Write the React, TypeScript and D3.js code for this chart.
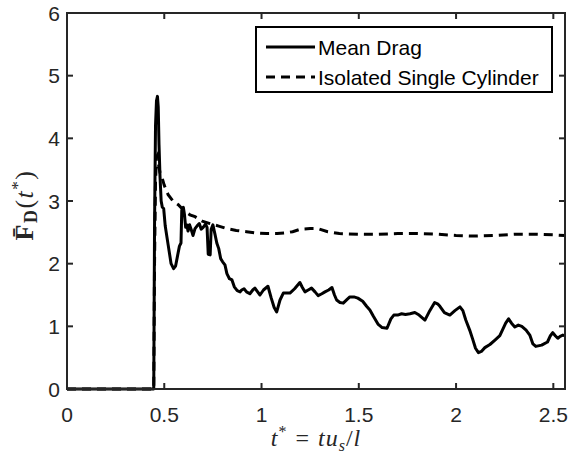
import React from "react";
import * as d3 from "d3";

const xTicks = [0, 0.5, 1, 1.5, 2, 2.5];
const yTicks = [0, 1, 2, 3, 4, 5, 6];
const seriesNames = ["Mean Drag", "Isolated Single Cylinder"];

const meanDrag: [number, number][] = [
  [0, 0], [0.446, 0], [0.45, 2.6], [0.455, 4.2], [0.46, 4.6], [0.465, 4.67], [0.469, 4.5], [0.473, 3.9],
  [0.478, 3.4], [0.484, 3.0], [0.49, 2.9], [0.497, 2.88], [0.505, 2.6], [0.52, 2.3], [0.535, 2.0],
  [0.548, 1.92], [0.558, 1.96], [0.568, 2.12], [0.578, 2.28], [0.586, 2.33], [0.59, 2.85], [0.598, 2.9],
  [0.604, 2.78], [0.61, 2.58], [0.616, 2.62], [0.622, 2.52], [0.63, 2.62], [0.638, 2.55], [0.648, 2.45],
  [0.658, 2.56], [0.668, 2.6], [0.68, 2.64], [0.69, 2.55], [0.7, 2.58], [0.712, 2.63], [0.72, 2.58],
  [0.726, 2.15], [0.736, 2.14], [0.741, 2.55], [0.75, 2.62], [0.76, 2.48], [0.77, 2.33], [0.78, 2.24],
  [0.79, 2.08], [0.8, 2.03], [0.812, 1.98], [0.822, 1.84], [0.835, 1.76], [0.848, 1.74], [0.86, 1.63],
  [0.875, 1.57], [0.89, 1.55], [0.898, 1.58], [0.91, 1.6], [0.923, 1.55], [0.94, 1.52], [0.955, 1.58],
  [0.966, 1.61], [0.98, 1.55], [0.992, 1.5], [1.01, 1.58], [1.033, 1.64], [1.05, 1.45], [1.065, 1.3],
  [1.078, 1.23], [1.095, 1.42], [1.112, 1.53], [1.13, 1.53], [1.146, 1.53], [1.17, 1.6], [1.197, 1.7],
  [1.21, 1.62], [1.223, 1.55], [1.24, 1.58], [1.257, 1.61], [1.275, 1.55], [1.291, 1.49], [1.31, 1.52],
  [1.326, 1.55], [1.345, 1.58], [1.362, 1.62], [1.375, 1.5], [1.386, 1.42], [1.403, 1.38], [1.42, 1.37],
  [1.44, 1.43], [1.454, 1.47], [1.475, 1.47], [1.495, 1.45], [1.52, 1.4], [1.54, 1.32], [1.557, 1.26],
  [1.575, 1.16], [1.6, 1.03], [1.62, 0.98], [1.645, 0.97], [1.665, 1.12], [1.68, 1.18], [1.7, 1.18],
  [1.72, 1.2], [1.74, 1.19], [1.763, 1.2], [1.788, 1.22], [1.81, 1.18], [1.84, 1.1], [1.865, 1.25],
  [1.89, 1.38], [1.905, 1.36], [1.917, 1.32], [1.94, 1.22], [1.968, 1.18], [1.994, 1.25], [2.02, 1.31],
  [2.035, 1.25], [2.05, 1.1], [2.07, 0.94], [2.085, 0.8], [2.1, 0.65], [2.115, 0.58], [2.13, 0.6],
  [2.148, 0.66], [2.174, 0.71], [2.2, 0.78], [2.225, 0.85], [2.24, 0.95], [2.255, 1.05], [2.27, 1.12],
  [2.285, 1.05], [2.302, 0.99], [2.32, 1.02], [2.338, 1.0], [2.36, 0.94], [2.379, 0.86], [2.395, 0.72],
  [2.41, 0.68], [2.44, 0.7], [2.47, 0.75], [2.485, 0.85], [2.497, 0.9], [2.51, 0.85], [2.523, 0.81],
  [2.535, 0.84], [2.549, 0.86], [2.56, 0.85],
];

const isolated: [number, number][] = [
  [0, 0], [0.446, 0], [0.45, 2.0], [0.455, 3.3], [0.46, 3.7], [0.465, 3.73], [0.47, 3.6], [0.478, 3.45],
  [0.488, 3.38], [0.5, 3.25], [0.52, 3.1], [0.545, 3.0], [0.572, 2.94], [0.6, 2.85], [0.632, 2.78],
  [0.658, 2.75], [0.695, 2.68], [0.735, 2.64], [0.78, 2.6], [0.82, 2.56], [0.87, 2.53], [0.923, 2.51],
  [0.975, 2.49], [1.026, 2.48], [1.08, 2.48], [1.12, 2.49], [1.16, 2.51], [1.2, 2.55], [1.25, 2.56],
  [1.29, 2.56], [1.34, 2.51], [1.4, 2.48], [1.5, 2.47], [1.6, 2.47], [1.7, 2.48], [1.8, 2.48],
  [1.9, 2.47], [2.0, 2.45], [2.1, 2.44], [2.2, 2.45], [2.3, 2.47], [2.4, 2.47], [2.5, 2.46], [2.56, 2.45],
];

const W = 570;
const H = 459;
const L = 67, R = 565, T = 13, B = 389;

export default function App() {
  const x = d3.scaleLinear().domain([0, 2.56]).range([L, R]);
  const y = d3.scaleLinear().domain([0, 6]).range([B, T]);
  const line = d3.line<[number, number]>().x((d) => x(d[0])).y((d) => y(d[1]));
  const axisColor = "#262626";
  const tickLen = 6;
  const sans = "'Liberation Sans', Arial, sans-serif";
  const serif = "'Liberation Serif', 'DejaVu Serif', serif";

  return (
    <svg width={W} height={H} style={{ position: "absolute", left: 0, top: 0, background: "#fff" }}>
      <defs>
        <clipPath id="plotclip">
          <rect x={L} y={T - 2} width={R - L} height={B - T + 4} />
        </clipPath>
      </defs>
      <rect x={0} y={0} width={W} height={H} fill="#fff" />
      <g clipPath="url(#plotclip)">
        <path d={line(meanDrag) || ""} fill="none" stroke="#000" strokeWidth={3} strokeLinejoin="round" />
        <path d={line(isolated) || ""} fill="none" stroke="#000" strokeWidth={3} strokeDasharray="9,6" />
      </g>
      <rect x={L} y={T} width={R - L} height={B - T} fill="none" stroke={axisColor} strokeWidth={2} />
      {xTicks.map((t) => (
        <g key={"xt" + t}>
          <line x1={x(t)} x2={x(t)} y1={B} y2={B - tickLen} stroke={axisColor} strokeWidth={2} />
          <line x1={x(t)} x2={x(t)} y1={T} y2={T + tickLen} stroke={axisColor} strokeWidth={2} />
          <text x={x(t)} y={B + 33} textAnchor="middle" fontFamily={sans} fontSize={21} fill="#262626">
            {String(t)}
          </text>
        </g>
      ))}
      {yTicks.map((v) => (
        <g key={"yt" + v}>
          <line x1={L} x2={L + tickLen} y1={y(v)} y2={y(v)} stroke={axisColor} strokeWidth={2} />
          <line x1={R} x2={R - tickLen} y1={y(v)} y2={y(v)} stroke={axisColor} strokeWidth={2} />
          <text x={L - 7} y={y(v)} dy="0.36em" textAnchor="end" fontFamily={sans} fontSize={21} fill="#262626">
            {String(v)}
          </text>
        </g>
      ))}
      <text x={316} y={446} textAnchor="middle" fontFamily={serif} fontSize={24} letterSpacing={1} fill="#262626">
        <tspan fontStyle="italic">t</tspan>
        <tspan fontSize={16} dy={-9}>*</tspan>
        <tspan dy={9} dx={8}>=</tspan>
        <tspan fontStyle="italic" dx={8}>tu</tspan>
        <tspan fontStyle="italic" fontSize={16} dy={5}>s</tspan>
        <tspan dy={-5}>/</tspan>
        <tspan fontStyle="italic">l</tspan>
      </text>
      <g transform={`translate(33, 205) rotate(-90)`}>
        <text x={0} y={0} textAnchor="middle" fontFamily={serif} fontSize={26} letterSpacing={1.5} fill="#262626">
          <tspan fontWeight="bold">F{"\u0304"}</tspan>
          <tspan fontWeight="bold" fontSize={18} dy={4}>D</tspan>
          <tspan dy={-4}>(</tspan>
          <tspan fontStyle="italic">t</tspan>
          <tspan fontSize={17} dy={-10}>*</tspan>
          <tspan dy={10}>)</tspan>
        </text>
      </g>
      <rect x={256} y={27} width={296} height={65} fill="#fff" stroke="#000" strokeWidth={2} />
      <line x1={266} x2={315} y1={47} y2={47} stroke="#000" strokeWidth={3} />
      <line x1={266} x2={315} y1={77} y2={77} stroke="#000" strokeWidth={3} strokeDasharray="9,6" />
      <text x={318} y={47} dy="0.36em" fontFamily={sans} fontSize={21} fill="#000">{seriesNames[0]}</text>
      <text x={318} y={77} dy="0.36em" fontFamily={sans} fontSize={21} fill="#000">{seriesNames[1]}</text>
    </svg>
  );
}
